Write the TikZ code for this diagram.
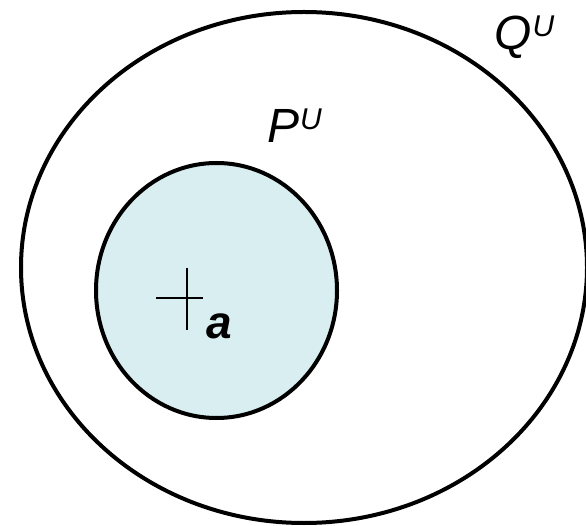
\documentclass[tikz,border=0pt]{standalone}
\usepackage{fontspec}
\setmainfont{Liberation Sans}
\definecolor{fillcyan}{RGB}{216,238,240}
\begin{document}
\begin{tikzpicture}[x=1pt,y=-1pt,
  ring/.style={draw=black,line width=4pt},
  lbl/.style={inner sep=0pt,anchor=base west,font=\fontsize{48}{48}\selectfont\itshape},
  crossline/.style={draw=black,line width=1.6pt}]
\useasboundingbox (0,0) rectangle (586,526);
\fill[white] (0,0) rectangle (586,526);
\draw[ring] (304,267.5) ellipse [x radius=283, y radius=255.5];
\draw[ring,fill=fillcyan] (216.5,290.5) ellipse [x radius=120.5, y radius=127.5];
\coordinate (cl) at (156,298);
\coordinate (cr) at (203,298);
\coordinate (ct) at (187,268);
\coordinate (cb) at (187,330);
\draw[crossline] (cl) -- (cr);
\draw[crossline] (ct) -- (cb);
\node[lbl] (Q) at (494,50) {Q\kern1pt\raisebox{13pt}{\fontsize{30}{30}\selectfont U}};
\node[lbl] (P) at (267,143) {P\kern1pt\raisebox{13pt}{\fontsize{30}{30}\selectfont U}};
\node[lbl,font=\fontsize{46}{46}\selectfont\itshape\bfseries] (a) at (206,339) {a};
\end{tikzpicture}
\end{document}
